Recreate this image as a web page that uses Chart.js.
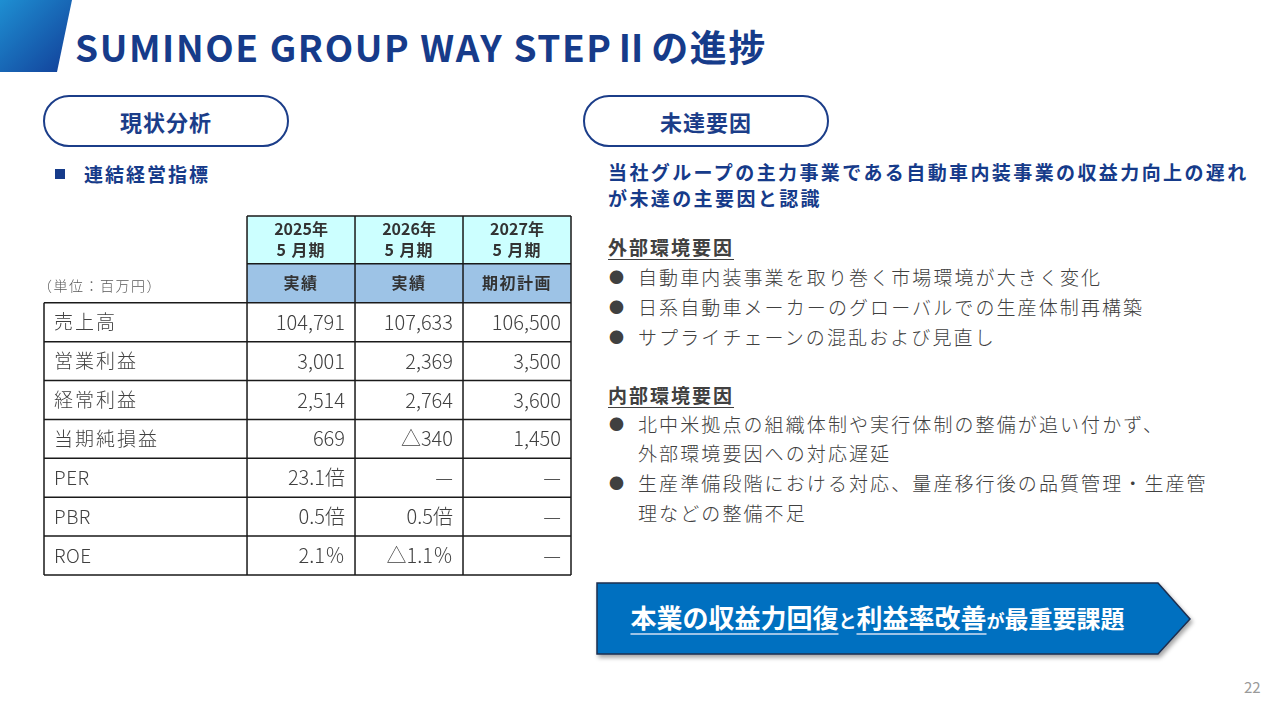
<!DOCTYPE html>
<html lang="ja">
<head>
<meta charset="utf-8">
<script src="https://cdn.jsdelivr.net/npm/chart.js@4.4.1/dist/chart.umd.min.js"></script>
<style>
  html, body { margin: 0; padding: 0; background: #fff; }
  body { width: 1280px; height: 720px; position: relative; overflow: hidden;
         font-family: "Noto Sans CJK JP", "Noto Sans", sans-serif; color: #404040; }
  .abs { position: absolute; white-space: nowrap; }
  #title { left: 75px; top: 22px; font-size: 37px; line-height: 48px; font-weight: 700; color: #163b8a; letter-spacing: 1.6px; }
  .pill { position: absolute; top: 95px; width: 242px; height: 48px; border: 2px solid #1b3d89;
          border-radius: 26px; text-align: center; line-height: 48px; font-size: 22px;
          font-weight: 700; color: #1b3d89; letter-spacing: 1px; }
  .lead { left: 608px; font-size: 19px; line-height: 26px; font-weight: 700; color: #163b8a; letter-spacing: 2.4px; }
  .head { left: 608px; font-size: 19px; line-height: 30px; font-weight: 700; color: #404040;
          letter-spacing: 2px; text-decoration: underline; text-underline-offset: 4px; }
  .item { left: 638px; font-size: 19px; line-height: 30px; font-weight: 300; color: #404040; letter-spacing: 2.1px; }
  .dot { left: 609px; font-size: 15px; line-height: 30px; color: #404040; }
  #tableChart { position: absolute; left: 40px; top: 212px; }
  #goal { left: 597px; top: 581px; width: 561px; height: 71px; line-height: 71px; text-align: center;
          color: #fff; font-weight: 700; }
  #goal .big { font-size: 26px; text-decoration: underline; text-decoration-color: #9dc3e6;
               text-underline-offset: 5px; text-decoration-thickness: 2px; }
  #goal .mid { font-size: 24px; }
  #goal .small { font-size: 18px; }
  #page { left: 1244px; top: 676px; font-size: 15px; color: #9a9a9a; }
</style>
</head>
<body>

<svg class="abs" style="left:0;top:0" width="1280" height="720">
  <defs>
    <linearGradient id="tab" x1="0" y1="0" x2="1" y2="1">
      <stop offset="0" stop-color="#1e8fd2"/>
      <stop offset="1" stop-color="#123e98"/>
    </linearGradient>
    <filter id="sh" x="-5%" y="-10%" width="115%" height="130%">
      <feDropShadow dx="2" dy="3" stdDeviation="2" flood-color="#000" flood-opacity="0.35"/>
    </filter>
  </defs>
  <polygon points="0,0 72,0 57,72 0,72" fill="url(#tab)"/>
  <polygon points="597,583 1158,583 1190,619 1158,654 597,654" fill="#0070c0" stroke="#1d2f4f" stroke-width="1.5" filter="url(#sh)"/>
  <rect x="55" y="169" width="10" height="10" fill="#163b8a"/>
</svg>

<div id="title" class="abs">SUMINOE GROUP WAY STEPⅡの進捗</div>

<div class="pill" style="left:43px">現状分析</div>
<div class="pill" style="left:583px">未達要因</div>

<div class="abs" style="left:84px;top:161px;font-size:19px;line-height:26px;font-weight:700;color:#163b8a;letter-spacing:2px">連結経営指標</div>

<div class="abs lead" style="top:159px">当社グループの主力事業である自動車内装事業の収益力向上の遅れ</div>
<div class="abs lead" style="top:185px">が未達の主要因と認識</div>

<div class="abs head" style="top:232px">外部環境要因</div>
<div class="abs dot" style="top:262px">●</div>
<div class="abs item" style="top:262px">自動車内装事業を取り巻く市場環境が大きく変化</div>
<div class="abs dot" style="top:292px">●</div>
<div class="abs item" style="top:292px">日系自動車メーカーのグローバルでの生産体制再構築</div>
<div class="abs dot" style="top:322px">●</div>
<div class="abs item" style="top:322px">サプライチェーンの混乱および見直し</div>

<div class="abs head" style="top:380px">内部環境要因</div>
<div class="abs dot" style="top:409px">●</div>
<div class="abs item" style="top:409px">北中米拠点の組織体制や実行体制の整備が追い付かず、</div>
<div class="abs item" style="top:438px">外部環境要因への対応遅延</div>
<div class="abs dot" style="top:468px">●</div>
<div class="abs item" style="top:468px">生産準備段階における対応、量産移行後の品質管理・生産管</div>
<div class="abs item" style="top:498px">理などの整備不足</div>

<div id="goal" class="abs"><span class="big">本業の収益力回復</span><span class="small">と</span><span class="big">利益率改善</span><span class="small">が</span><span class="mid">最重要課題</span></div>

<div id="page" class="abs">22</div>

<canvas id="tableChart" width="535" height="367"></canvas>

<script>
// table data
const yearLabels = ['2025年', '2026年', '2027年'];
const periodLabels = ['5 月期', '5 月期', '5 月期'];
const statusLabels = ['実績', '実績', '期初計画'];
const rowLabels = ['売上高', '営業利益', '経常利益', '当期純損益', 'PER', 'PBR', 'ROE'];
const rowUnits = ['', '', '', '', '倍', '倍', '％'];
const fy2025 = [104791, 3001, 2514, 669, 23.1, 0.5, 2.1];
const fy2026 = [107633, 2369, 2764, -340, null, 0.5, -1.1];
const fy2027 = [106500, 3500, 3600, 1450, null, null, null];
const unitNote = '（単位：百万円）';

const columns = [fy2025, fy2026, fy2027];

function fmt(v, i) {
  if (v === null) return '—';
  const abs = Math.abs(v);
  const s = rowUnits[i] ? abs.toFixed(1) : abs.toLocaleString('en-US');
  return (v < 0 ? '△' : '') + s + rowUnits[i];
}

const HEAD_TOP = -2.23;   // top of the two header rows
const LABEL_LEFT = -1.88; // left edge of the row-label column

const tablePlugin = {
  id: 'tableGrid',
  afterDraw(chart) {
    const ctx = chart.ctx;
    const x = chart.scales.x, y = chart.scales.y;
    const X = v => x.getPixelForValue(v);
    const Y = v => y.getPixelForValue(v);
    ctx.save();

    // header fills
    ctx.fillStyle = '#ccffff';
    ctx.fillRect(X(0), Y(HEAD_TOP), X(3) - X(0), Y(-1) - Y(HEAD_TOP));
    ctx.fillStyle = '#9dc3e6';
    ctx.fillRect(X(0), Y(-1), X(3) - X(0), Y(0) - Y(-1));

    // grid
    ctx.strokeStyle = '#1a1a1a';
    ctx.lineWidth = 1.5;
    ctx.beginPath();
    [HEAD_TOP, -1].forEach(r => { ctx.moveTo(X(0), Y(r)); ctx.lineTo(X(3), Y(r)); });
    for (let r = 0; r <= rowLabels.length; r++) { ctx.moveTo(X(LABEL_LEFT), Y(r)); ctx.lineTo(X(3), Y(r)); }
    ctx.moveTo(X(LABEL_LEFT), Y(0)); ctx.lineTo(X(LABEL_LEFT), Y(rowLabels.length));
    for (let c = 0; c <= 3; c++) { ctx.moveTo(X(c), Y(HEAD_TOP)); ctx.lineTo(X(c), Y(rowLabels.length)); }
    ctx.stroke();

    ctx.textBaseline = 'middle';
    const fam = '"Noto Sans CJK JP", sans-serif';

    // header text
    ctx.fillStyle = '#333';
    ctx.textAlign = 'center';
    const topMid = (Y(HEAD_TOP) + Y(-1)) / 2;
    yearLabels.forEach((t, c) => {
      ctx.font = '700 16px ' + fam;
      ctx.letterSpacing = '0px';
      ctx.fillText(t, X(c + 0.5), topMid - 11);
      ctx.letterSpacing = '1px';
      ctx.fillText(periodLabels[c], X(c + 0.5), topMid + 10);
      ctx.letterSpacing = '1.5px';
      ctx.fillText(statusLabels[c], X(c + 0.5), Y(-0.5));
    });

    // unit note
    ctx.textAlign = 'left';
    ctx.fillStyle = '#595959';
    ctx.font = '300 14px ' + fam;
    ctx.letterSpacing = '1.5px';
    ctx.fillText(unitNote, X(LABEL_LEFT) - 6, Y(-0.5) + 2);

    // body
    ctx.fillStyle = '#404040';
    rowLabels.forEach((t, r) => {
      ctx.font = '300 19px ' + fam;
      ctx.textAlign = 'left';
      ctx.letterSpacing = r < 4 ? '2px' : '0.5px';
      ctx.fillText(t, X(LABEL_LEFT) + 10, Y(r + 0.5));
      ctx.font = '300 20px ' + fam;
      ctx.textAlign = 'right';
      ctx.letterSpacing = '0px';
      columns.forEach((col, c) => {
        ctx.fillText(fmt(col[r], r), X(c + 1) - 10, Y(r + 0.5));
      });
    });
    ctx.restore();
  }
};

new Chart(document.getElementById('tableChart'), {
  type: 'scatter',
  data: {
    datasets: columns.map((col, c) => ({
      data: col.map((v, r) => ({ x: c + 0.5, y: r + 0.5 })),
      pointRadius: 0
    }))
  },
  options: {
    responsive: false,
    animation: false,
    layout: { padding: 4 },
    plugins: { legend: { display: false }, tooltip: { enabled: false } },
    scales: {
      x: { type: 'linear', min: LABEL_LEFT, max: 3, display: false },
      y: { type: 'linear', min: HEAD_TOP, max: rowLabels.length, reverse: true, display: false }
    }
  },
  plugins: [tablePlugin]
});
</script>
</body>
</html>
